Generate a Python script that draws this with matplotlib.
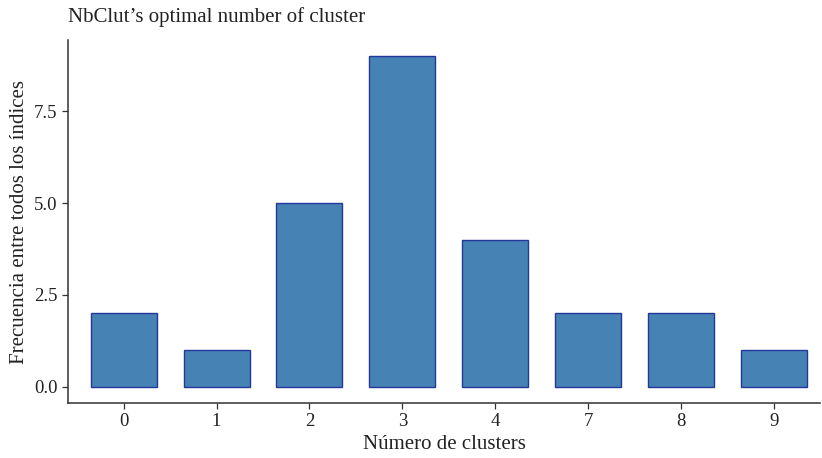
import matplotlib
matplotlib.use("Agg")
import matplotlib.pyplot as plt
import numpy as np

categories = ["0", "1", "2", "3", "4", "7", "8", "9"]
values = [2, 1, 5, 9, 4, 2, 2, 1]
yticks = [0.0, 2.5, 5.0, 7.5]
ytick_labels = ["0.0", "2.5", "5.0", "7.5"]

plt.rcParams['font.family'] = ['Liberation Serif', 'DejaVu Serif']

fig = plt.figure(figsize=(8.22, 4.58), dpi=100)
ax = fig.add_axes([0.0827, 0.120, 0.915, 0.7927])
x = np.arange(len(categories))
ax.bar(x, values, width=0.71, color="#4682B4", edgecolor="#24379c", linewidth=1.0)
ax.set_xlim(-0.6, 7.5)
ax.set_ylim(-0.45, 9.45)
ax.set_xticks(x)
ax.set_xticklabels(categories)
ax.set_yticks(yticks)
ax.set_yticklabels(ytick_labels)
for s in ["top", "right"]:
    ax.spines[s].set_visible(False)
for s in ["left", "bottom"]:
    ax.spines[s].set_color("#333333")
    ax.spines[s].set_linewidth(1.1)
ax.tick_params(axis="both", labelsize=13.5, colors="#333333", labelcolor="#222222", length=4, width=0.9)
ax.set_xlabel("Número de clusters", fontsize=15, color="#222222", labelpad=3)
ax.set_ylabel("Frecuencia entre todos los índices", fontsize=15, color="#222222", labelpad=4)
fig.text(68/822, 1-17/458, "NbClut\u2019s optimal number of cluster", fontsize=15, color="#222222", va="center", ha="left")
fig.savefig("out.png", dpi=100)
